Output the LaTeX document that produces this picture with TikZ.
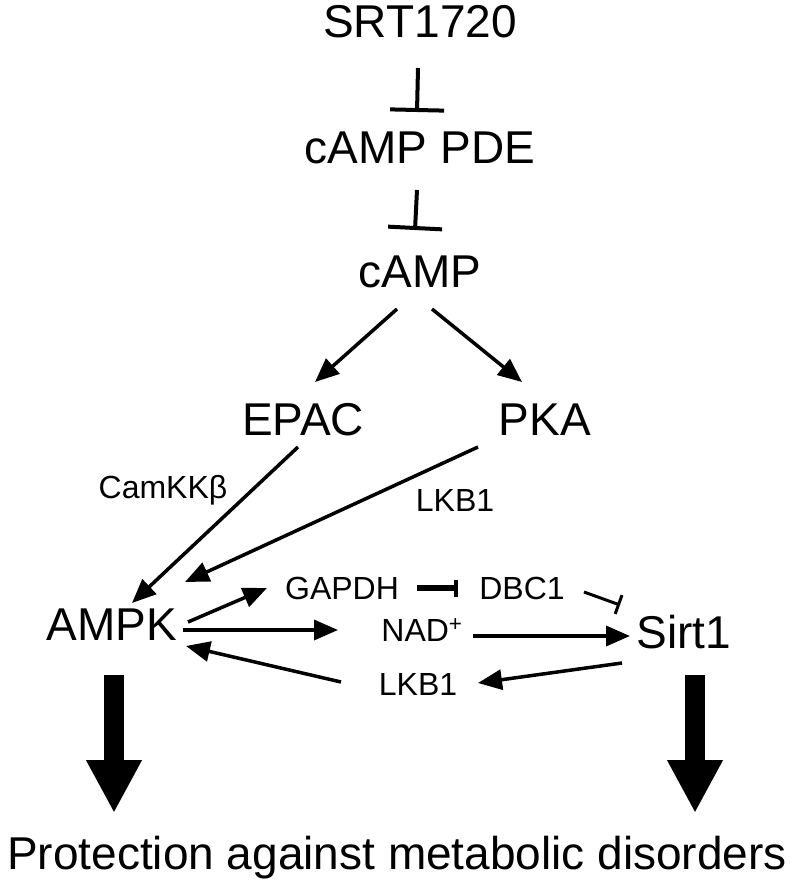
\documentclass[tikz,border=0pt]{standalone}
\usepackage{fontspec}
\setmainfont{Liberation Sans}
\usetikzlibrary{arrows.meta,calc}

\tikzset{
    big/.style={inner sep=0pt, font=\fontsize{46}{50}\selectfont},
    small/.style={inner sep=0pt, font=\fontsize{32}{36}\selectfont},
    act/.style={line width=3.5pt, -{Triangle[length=24pt,width=20pt]}},
    inh/.style={line width=4pt, -{Bar[width=54pt]}},
    fat/.style={line width=20pt, -{Triangle[length=53pt,width=52pt]}}
}

\begin{document}
\begin{tikzpicture}[x=1pt, y=-1pt, node distance=126pt]

    \useasboundingbox (0,0) rectangle (794,886);

    % Nodes
    \node (SRT) [big] at (420,22) {SRT1720};
    \node (PDE) [big, below of=SRT] {cAMP PDE};
    \node (cAMP) [big, below of=PDE, node distance=124pt] {cAMP};
    \node (EPAC) [big] at (303,420) {EPAC};
    \node (PKA) [big] at (545,420) {PKA};
    \node (AMPK) [big] at (112,625) {AMPK};
    \node (Sirt) [big] at (684,632) {Sirt1};
    \node (Prot) [big] at (397,858) {Protection against metabolic disorders};

    % Small labels
    \node (CamKK) [small] at (163,490) {CamKKβ};
    \node (LKBa) [small] at (455,500) {LKB1};
    \node (GAPDH) [small] at (342,588) {GAPDH};
    \node (DBC) [small] at (522,588) {DBC1};
    \node (NAD) [small] at (422,630) {NAD\textsuperscript{+}};
    \node (LKBb) [small] at (418,684) {LKB1};

    % Arrows
    \draw[inh] ($(SRT)+(-2,46)$) -- ($(PDE)+(-3,-36)$);
    \draw[inh] ($(PDE)+(-3,42)$) -- ($(cAMP)+(-5,-42)$);
    \draw[act] ($(cAMP)+(-23,37)$) -- ($(EPAC)+(12,-38)$);
    \draw[act] ($(cAMP)+(12,37)$) -- ($(PKA)+(-23,-38)$);
    \draw[act] ($(EPAC)+(-5,27)$) -- ($(AMPK)+(20,-22)$);
    \draw[act] ($(PKA)+(-67,27)$) -- ($(AMPK)+(73,-43)$);

    \draw[act] ($(AMPK)+(76,-3)$) -- ($(GAPDH)+(-75,0)$);
    \draw[act] ($(AMPK)+(71,5)$) -- ($(NAD)+(-84,0)$);
    \draw[act] ($(LKBb)+(-77,-2)$) -- ($(AMPK)+(74,21)$);
    \draw[line width=6pt, -{Bar[width=17pt,line width=4pt]}] ($(GAPDH)+(75,0)$) -- ($(DBC)+(-64,0)$);
    \draw[line width=3pt, -{Bar[width=20pt]}] ($(DBC)+(62,4)$) -- ($(Sirt)+(-64,-27)$);
    \draw[act] ($(NAD)+(51,6)$) -- ($(Sirt)+(-54,4)$);
    \draw[act] ($(Sirt)+(-62,31)$) -- ($(LKBb)+(60,-1)$);

    \draw[fat] ($(AMPK)+(2,50)$) -- ($(Prot)+(-283,-45)$);
    \draw[fat] ($(Sirt)+(11,43)$) -- ($(Prot)+(298,-45)$);

\end{tikzpicture}
\end{document}
